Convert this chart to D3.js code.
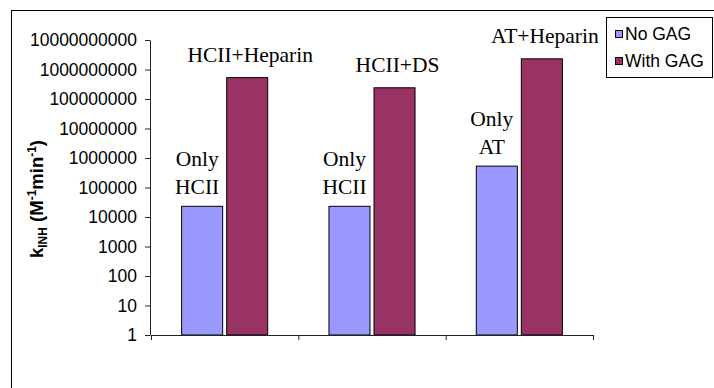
<!DOCTYPE html>
<html lang="en">
<head>
<meta charset="UTF-8"/>
<title>kINH bar chart</title>
<script src="https://d3js.org/d3.v7.min.js"></script>
<style>
	body { margin: 0; background: #fff; }
	svg { display: block; }
	.tick text { font-family: "Liberation Sans", Arial, sans-serif; font-size: 17.5px; fill: #000; }
	.lbl { font-family: "Liberation Serif", "Times New Roman", serif; font-size: 21.5px; fill: #000; }
</style>
</head>
<body>
<div id="chart"></div>
<script>
	// data
	var categories = ["HCII", "HCII-DS", "AT"];
	var series = ["No GAG", "With GAG"];
	var noGag = [23000, 23000, 530000];
	var withGag = [530000000, 240000000, 2300000000];
	var gagLabels = ["HCII+Heparin", "HCII+DS", "AT+Heparin"];
	var onlyLabels = [["Only", "HCII"], ["Only", "HCII"], ["Only", "AT"]];
	var yTicks = [1, 10, 100, 1000, 10000, 100000, 1000000, 10000000, 100000000, 1000000000, 10000000000];
	var colors = ["#9999FF", "#993366"];

	var w = 714, h = 388;

	var svg = d3.select("#chart").append("svg")
		.attr("width", w)
		.attr("height", h);

	// outer chart frame (runs off the right and bottom edge)
	svg.append("rect")
		.attr("x", 11.5).attr("y", 10.5)
		.attr("width", 760).attr("height", 420)
		.attr("fill", "#fff").attr("stroke", "#000");

	var yScale = d3.scaleLog()
		.domain([1, 1e10])
		.range([335, 40]);

	var xScale = d3.scaleBand()
		.domain(categories)
		.range([151, 593]);

	var xSub = d3.scaleBand()
		.domain(series)
		.range([0, xScale.bandwidth()])
		.paddingInner(0.089)
		.paddingOuter(0.68);

	var xEdge = d3.scaleLinear().domain([0, 3]).range([151, 593]);

	// bars
	var groups = svg.selectAll("g.grp")
		.data(categories)
		.enter().append("g")
		.attr("class", "grp")
		.attr("transform", function(d) { return "translate(" + xScale(d) + ",0)"; });

	groups.selectAll("rect")
		.data(function(d, i) { return [noGag[i], withGag[i]]; })
		.enter().append("rect")
		.attr("x", function(d, j) { return xSub(series[j]); })
		.attr("y", function(d) { return yScale(d); })
		.attr("width", xSub.bandwidth())
		.attr("height", function(d) { return yScale(1) - yScale(d); })
		.attr("fill", function(d, j) { return colors[j]; })
		.attr("stroke", "#000")
		.attr("stroke-width", 1);

	// labels above the bars
	groups.append("text")
		.attr("class", "lbl")
		.attr("text-anchor", "middle")
		.attr("x", xSub("With GAG") + xSub.bandwidth() / 2 + 3)
		.attr("y", function(d, i) { return yScale(withGag[i]) - 16; })
		.text(function(d, i) { return gagLabels[i]; });

	groups.each(function(d, i) {
		var g = d3.select(this);
		var cx = xSub("No GAG") + xSub.bandwidth() / 2 - 5;
		var base = yScale(noGag[i]) - 12;
		onlyLabels[i].forEach(function(t, k) {
			g.append("text")
				.attr("class", "lbl")
				.attr("text-anchor", "middle")
				.attr("x", cx)
				.attr("y", base - (onlyLabels[i].length - 1 - k) * 28)
				.text(t);
		});
	});

	// axes
	var yAxis = d3.axisLeft(yScale)
		.tickValues(yTicks)
		.tickFormat(d3.format("d"))
		.tickSize(5)
		.tickSizeOuter(0)
		.tickPadding(8);

	var xAxis = d3.axisBottom(xEdge)
		.tickValues([0, 1, 2, 3])
		.tickFormat("")
		.tickSize(5)
		.tickSizeOuter(0);

	svg.append("g")
		.attr("transform", "translate(0," + yScale(1) + ")")
		.call(xAxis)
		.selectAll("path, line").attr("stroke", "#222");

	svg.append("g")
		.attr("transform", "translate(150,0)")
		.call(yAxis)
		.selectAll("path, line").attr("stroke", "#222");

	// y axis title
	var yt = svg.append("text")
		.attr("transform", "translate(43," + 199 + ") rotate(-90)")
		.attr("text-anchor", "middle")
		.attr("font-family", "'Liberation Sans', Arial, sans-serif")
		.attr("font-weight", "bold")
		.attr("font-size", "18.5px");
	yt.append("tspan").text("k");
	yt.append("tspan").attr("font-size", "12px").attr("dy", 4).text("INH");
	yt.append("tspan").attr("dy", -4).text(" (M");
	yt.append("tspan").attr("font-size", "12px").attr("dy", -7).text("-1");
	yt.append("tspan").attr("dy", 7).text("min");
	yt.append("tspan").attr("font-size", "12px").attr("dy", -7).text("-1");
	yt.append("tspan").attr("dy", 7).text(")");

	// legend
	var legend = svg.append("g");
	legend.append("rect")
		.attr("x", 606.5).attr("y", 17.5)
		.attr("width", 106).attr("height", 60)
		.attr("fill", "#fff").attr("stroke", "#000");

	series.forEach(function(s, i) {
		legend.append("rect")
			.attr("x", 615.5).attr("y", 30.5 + i * 27)
			.attr("width", 7).attr("height", 7)
			.attr("fill", colors[i]).attr("stroke", "#000");
		legend.append("text")
			.attr("x", 625).attr("y", 40 + i * 27)
			.attr("font-family", "'Liberation Sans', Arial, sans-serif")
			.attr("font-size", "17.5px")
			.text(s);
	});
</script>
</body>
</html>
